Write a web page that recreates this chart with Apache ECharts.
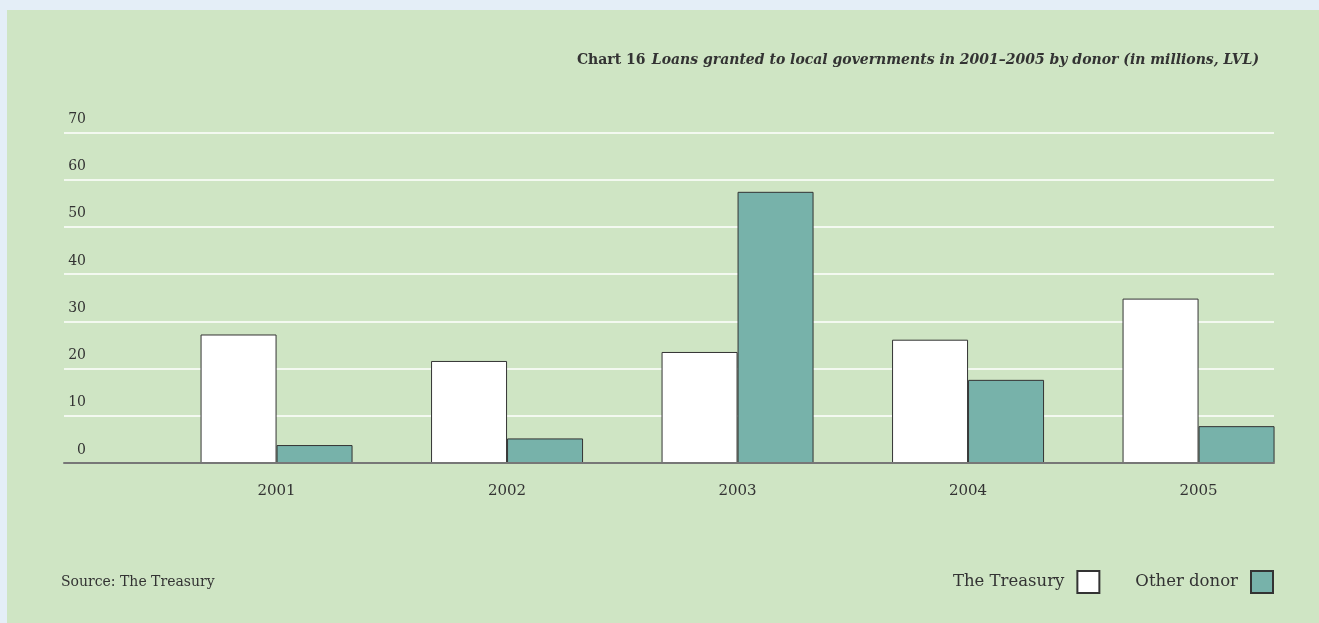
<!DOCTYPE html>
<html>
<head>
<meta charset="utf-8">
<title>Loans granted to local governments</title>
<script src="https://cdn.jsdelivr.net/npm/echarts@6/dist/echarts.min.js"></script>
<style>
  html, body { margin: 0; padding: 0; background: #e4eef7; }
  #chart { width: 1319px; height: 623px; }
</style>
</head>
<body>
<div id="chart"></div>
<script>
// Loans granted to local governments, millions LVL
const years = ['2001', '2002', '2003', '2004', '2005'];
const treasury = [27.2, 21.6, 23.5, 26.1, 34.8];
const otherDonor = [3.8, 5.2, 57.4, 17.6, 7.8];
const seriesNames = ['The Treasury', 'Other donor'];
const yTicks = { min: 0, max: 70, step: 10 };

const FONT = '"DejaVu Serif", "Liberation Serif", serif';
const TEXT = '#333333';

const chart = echarts.init(document.getElementById('chart'));

chart.setOption({
  animation: false,
  backgroundColor: '#e4eef7',
  textStyle: { fontFamily: FONT, color: TEXT },
  title: {
    right: 60,
    top: 51,
    padding: 0,
    text: '{b|Chart 16} {i|Loans granted to local governments in 2001\u20132005 by donor (in millions, LVL)}',
    textStyle: {
      rich: {
        b: { fontFamily: FONT, fontWeight: 'bold', fontSize: 14, color: TEXT },
        i: { fontFamily: FONT, fontStyle: 'italic', fontSize: 14, color: TEXT }
      }
    }
  },
  legend: {
    right: 45,
    top: 570,
    padding: 0,
    align: 'right',
    itemWidth: 22,
    itemHeight: 22,
    itemGap: 35,
    icon: 'rect',
    textStyle: { fontFamily: FONT, fontSize: 16.5, color: TEXT, padding: [0, 8, 0, 0] },
    data: seriesNames
  },
  graphic: [
    {
      type: 'rect',
      z: -10,
      shape: { x: 7, y: 10, width: 1312, height: 613 },
      style: { fill: '#cfe5c4' }
    },
    {
      type: 'text',
      x: 61,
      y: 582,
      style: {
        text: 'Source: The Treasury',
        font: '14px ' + FONT,
        fill: TEXT,
        verticalAlign: 'middle'
      }
    }
  ],
  grid: [
    // bar area: category bands
    { left: 161.3, right: 5.2, top: 132.3, bottom: 160 },
    // frame carrying gridlines, y labels and baseline
    { left: 64, right: 45, top: 132.3, bottom: 160 }
  ],
  xAxis: [
    {
      gridIndex: 0,
      type: 'category',
      data: years,
      axisLine: { show: false },
      axisTick: { show: false },
      axisLabel: { fontFamily: FONT, fontSize: 15, color: TEXT, margin: 21 }
    },
    {
      gridIndex: 1,
      type: 'value',
      min: 0,
      max: 1,
      z: 10,
      axisLine: { show: true, lineStyle: { color: '#777777', width: 2 } },
      axisTick: { show: false },
      axisLabel: { show: false },
      splitLine: { show: false }
    }
  ],
  yAxis: [
    { gridIndex: 0, type: 'value', min: yTicks.min, max: yTicks.max, show: false },
    {
      gridIndex: 1,
      type: 'value',
      min: yTicks.min,
      max: yTicks.max,
      interval: yTicks.step,
      axisLine: { show: false },
      axisTick: { show: false },
      splitLine: { lineStyle: { color: '#ffffff', width: 1.5 } },
      axisLabel: {
        inside: true,
        margin: 22,
        align: 'right',
        verticalAlign: 'bottom',
        lineHeight: 26,
        fontFamily: FONT,
        fontSize: 14,
        color: TEXT
      }
    }
  ],
  series: [
    {
      name: seriesNames[0],
      type: 'bar',
      xAxisIndex: 0,
      yAxisIndex: 0,
      data: treasury,
      barWidth: 76,
      barGap: '0%',
      itemStyle: { color: '#ffffff', borderColor: '#333333', borderWidth: 1 }
    },
    {
      name: seriesNames[1],
      type: 'bar',
      xAxisIndex: 0,
      yAxisIndex: 0,
      data: otherDonor,
      barWidth: 76,
      barGap: '0%',
      itemStyle: { color: '#77b2aa', borderColor: '#333333', borderWidth: 1 }
    }
  ]
});
</script>
</body>
</html>
